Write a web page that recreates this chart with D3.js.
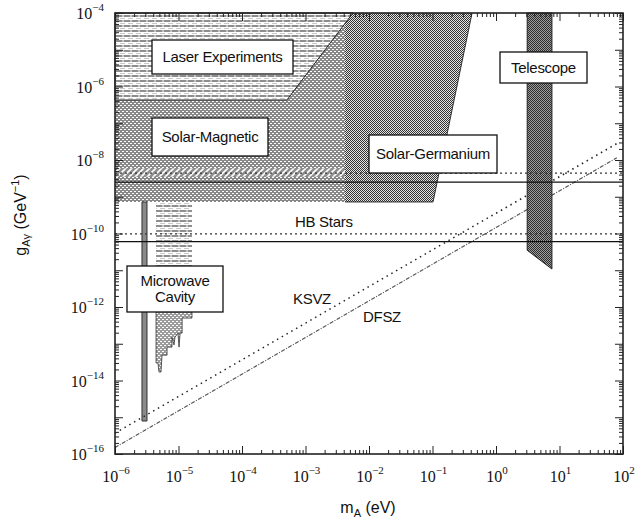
<!DOCTYPE html>
<html>
<head>
<meta charset="utf-8">
<script src="https://d3js.org/d3.v7.min.js"></script>
<style>
  body { margin: 0; background: #fff; }
  svg { display: block; }
  .box-label { font-family: "Liberation Sans", Arial, sans-serif; font-size: 15px; fill: #111; letter-spacing: -0.3px; }
  .tick-label { font-family: "Liberation Serif", "Times New Roman", serif; font-size: 16px; fill: #111; }
  .axis-title { font-family: "Liberation Sans", Arial, sans-serif; font-size: 16px; fill: #111; }
</style>
</head>
<body>
<div id="chart"></div>
<script>
// --- data (mass in eV, coupling in GeV^-1) ---
const massDomain = [1e-6, 1e2];
const couplingDomain = [1e-16, 1e-4];
const xTickExps = [-6, -5, -4, -3, -2, -1, 0, 1, 2];
const yTickExps = [-16, -14, -12, -10, -8, -6, -4];

const solarMagnetic = [[1e-6, 1e-4], [4.2e-3, 1e-4], [4.2e-3, 7.2e-10], [1e-6, 7.2e-10]];
const solarGermanium = [[4.2e-3, 1e-4], [0.42, 1e-4], [0.102, 7.2e-10], [4.2e-3, 7.2e-10]];
const germaniumEdge = [[0.42, 1e-4], [0.102, 7.2e-10], [4.2e-3, 7.2e-10]];
const laserExperiments = [[1e-6, 1e-4], [1e-6, 4.3e-7], [5.1e-4, 4.3e-7], [5.6e-3, 1e-4]];
const solarBand = [[1e-6, 6.0e-9], [4.2e-3, 6.0e-9], [4.2e-3, 3.5e-9], [1e-6, 3.5e-9]];
const telescope = [[3.1, 1e-4], [7.6, 1e-4], [7.6, 1.08e-11], [3.1, 3.5e-11]];
const cavityNarrow = [[2.66e-6, 7.2e-10], [3.19e-6, 7.2e-10], [3.19e-6, 7.9e-16], [2.66e-6, 7.9e-16]];
const cavityUpper = [[4.43e-6, 7.2e-10], [1.63e-5, 7.2e-10], [1.63e-5, 1e-11], [4.43e-6, 1e-11]];
const cavityLower = [
  [4.43e-6, 1e-11], [4.43e-6, 3.0e-14], [4.75e-6, 3.0e-14], [4.93e-6, 1.7e-14], [5.3e-6, 1.7e-14],
  [5.5e-6, 4.9e-14], [6.6e-6, 4.9e-14], [6.6e-6, 8.1e-14], [7.9e-6, 8.1e-14], [7.9e-6, 1.5e-13],
  [8.5e-6, 9.3e-14], [8.8e-6, 1.5e-13], [9.8e-6, 1.95e-13], [1.02e-5, 8.1e-14], [1.06e-5, 1.95e-13],
  [1.14e-5, 1.95e-13], [1.14e-5, 5.0e-13], [1.63e-5, 5.0e-13], [1.63e-5, 1e-11]
];

// horizontal bounds (dotted / solid pairs)
const dottedBounds = [4.4e-9, 9.8e-11];
const solidBounds = [2.5e-9, 6.0e-11];

// theory lines
const ksvz = [[1e-6, 3.7e-16], [80, 2.8e-8]];
const dfsz = [[1e-6, 1.5e-16], [80, 1.15e-8]];

(function() {
  const width = 643, height = 529;
  const left = 115, right = 623, top = 13, bottom = 454;

  const svg = d3.select("#chart").append("svg")
    .attr("width", width).attr("height", height);

  const x = d3.scaleLog().domain(massDomain).range([left, right]);
  const y = d3.scaleLog().domain(couplingDomain).range([bottom, top]);

  // --- patterns ---
  const defs = svg.append("defs");

  const pLaser = defs.append("pattern").attr("id", "laser")
    .attr("patternUnits", "userSpaceOnUse").attr("width", 8).attr("height", 5);
  pLaser.append("rect").attr("width", 8).attr("height", 5).attr("fill", "#fff");
  pLaser.append("rect").attr("y", 0).attr("width", 8).attr("height", 2).attr("fill", "#8e8e8e");
  pLaser.append("rect").attr("x", 2).attr("y", 0.5).attr("width", 2).attr("height", 1).attr("fill", "#fff");
  pLaser.append("rect").attr("x", 0).attr("y", 3).attr("width", 5).attr("height", 1).attr("fill", "#c8c8c8");

  const pMag = defs.append("pattern").attr("id", "solarmag")
    .attr("patternUnits", "userSpaceOnUse").attr("width", 4).attr("height", 4);
  pMag.append("rect").attr("width", 4).attr("height", 4).attr("fill", "#888");
  pMag.append("rect").attr("x", 0).attr("y", 1).attr("width", 2).attr("height", 1).attr("fill", "#fff");
  pMag.append("rect").attr("x", 2).attr("y", 3).attr("width", 2).attr("height", 1).attr("fill", "#fff");

  const pGe = defs.append("pattern").attr("id", "germanium")
    .attr("patternUnits", "userSpaceOnUse").attr("width", 2).attr("height", 2);
  pGe.append("rect").attr("width", 2).attr("height", 2).attr("fill", "#e4e4e4");
  pGe.append("rect").attr("width", 1).attr("height", 1).attr("fill", "#333");
  pGe.append("rect").attr("x", 1).attr("y", 1).attr("width", 1).attr("height", 1).attr("fill", "#333");

  const pTel = defs.append("pattern").attr("id", "telescope")
    .attr("patternUnits", "userSpaceOnUse").attr("width", 2).attr("height", 2);
  pTel.append("rect").attr("width", 2).attr("height", 2).attr("fill", "#a0a0a0");
  pTel.append("rect").attr("width", 1).attr("height", 1).attr("fill", "#2a2a2a");
  pTel.append("rect").attr("x", 1).attr("y", 1).attr("width", 1).attr("height", 1).attr("fill", "#2a2a2a");

  const pCav = defs.append("pattern").attr("id", "cavity")
    .attr("patternUnits", "userSpaceOnUse").attr("width", 4).attr("height", 4);
  pCav.append("rect").attr("width", 4).attr("height", 4).attr("fill", "#9c9c9c");
  pCav.append("rect").attr("x", 0).attr("y", 1).attr("width", 2).attr("height", 1).attr("fill", "#fff");
  pCav.append("rect").attr("x", 2).attr("y", 3).attr("width", 2).attr("height", 1).attr("fill", "#fff");

  const pBand = defs.append("pattern").attr("id", "band")
    .attr("patternUnits", "userSpaceOnUse").attr("width", 6).attr("height", 6);
  pBand.append("rect").attr("width", 6).attr("height", 6).attr("fill", "#8e8e8e");
  pBand.append("path").attr("d", "M0,6 L6,0 M-1,1 L1,-1 M5,7 L7,5")
    .attr("stroke", "#fff").attr("stroke-width", 1.6);

  const line = d3.line().x(d => x(d[0])).y(d => y(d[1]));
  const poly = pts => line(pts) + "Z";

  // --- exclusion regions ---
  svg.append("path").attr("d", poly(solarMagnetic)).attr("fill", "url(#solarmag)");
  svg.append("path").attr("d", poly(solarBand)).attr("fill", "url(#band)");
  svg.append("path").attr("d", poly(solarGermanium)).attr("fill", "url(#germanium)");
  svg.append("path").attr("d", line(germaniumEdge)).attr("fill", "none")
    .attr("stroke", "#222").attr("stroke-width", 0.9);
  svg.append("path").attr("d", poly(laserExperiments)).attr("fill", "url(#laser)")
    .attr("stroke", "#222").attr("stroke-width", 1);

  svg.append("path").attr("d", poly(cavityUpper)).attr("fill", "url(#laser)");
  svg.append("path").attr("d", poly(cavityLower)).attr("fill", "url(#cavity)")
    .attr("stroke", "#333").attr("stroke-width", 0.8);
  svg.append("path").attr("d", poly(cavityNarrow)).attr("fill", "#8a8a8a")
    .attr("stroke", "#333").attr("stroke-width", 1);

  // theory lines
  svg.append("path").attr("d", line(dfsz)).attr("fill", "none")
    .attr("stroke", "#555").attr("stroke-width", 1.2).attr("stroke-dasharray", "4,1.5,1,1.5");
  svg.append("path").attr("d", line(ksvz)).attr("fill", "none")
    .attr("stroke", "#222").attr("stroke-width", 1.5).attr("stroke-dasharray", "1.5,4");

  svg.append("path").attr("d", poly(telescope)).attr("fill", "url(#telescope)")
    .attr("stroke", "#222").attr("stroke-width", 1);

  // horizontal bounds
  svg.selectAll(".dotted-bound").data(dottedBounds).enter().append("line")
    .attr("x1", left).attr("x2", right).attr("y1", d => y(d)).attr("y2", d => y(d))
    .attr("stroke", "#333").attr("stroke-width", 1.2).attr("stroke-dasharray", "2,3");
  svg.selectAll(".solid-bound").data(solidBounds).enter().append("line")
    .attr("x1", left).attr("x2", right).attr("y1", d => y(d)).attr("y2", d => y(d))
    .attr("stroke", "#111").attr("stroke-width", 1.3);

  // --- label boxes ---
  const boxes = [
    { x0: 152, y0: 40, x1: 293, y1: 74, lines: ["Laser Experiments"] },
    { x0: 152, y0: 118, x1: 268, y1: 156, lines: ["Solar-Magnetic"] },
    { x0: 369, y0: 135, x1: 497, y1: 173, lines: ["Solar-Germanium"] },
    { x0: 500, y0: 52, x1: 587, y1: 83, lines: ["Telescope"] },
    { x0: 127, y0: 266, x1: 223, y1: 312, lines: ["Microwave", "Cavity"] }
  ];
  boxes.forEach(b => {
    svg.append("rect").attr("x", b.x0).attr("y", b.y0)
      .attr("width", b.x1 - b.x0).attr("height", b.y1 - b.y0)
      .attr("fill", "#fff").attr("stroke", "#111").attr("stroke-width", 1.3);
    const cy = (b.y0 + b.y1) / 2;
    const n = b.lines.length;
    b.lines.forEach((t, i) => {
      svg.append("text").attr("class", "box-label")
        .attr("x", (b.x0 + b.x1) / 2)
        .attr("y", cy + 5 + (i - (n - 1) / 2) * 16)
        .attr("text-anchor", "middle").text(t);
    });
  });

  // plain labels
  svg.append("text").attr("class", "box-label").attr("x", 295).attr("y", 227).text("HB Stars");
  svg.append("text").attr("class", "box-label").attr("x", 293).attr("y", 304).text("KSVZ");
  svg.append("text").attr("class", "box-label").attr("x", 363).attr("y", 322).text("DFSZ");

  // --- axes: inward ticks on all four sides ---
  const majorX = xTickExps.map(e => Math.pow(10, e));
  const majorY = d3.range(-16, -3).map(e => Math.pow(10, e));
  const minorsOf = exps => {
    const out = [];
    for (let e = exps[0]; e < exps[1]; e++)
      for (let k = 2; k <= 9; k++) out.push(k * Math.pow(10, e));
    return out;
  };
  const minorX = minorsOf([-6, 2]);
  const minorY = minorsOf([-16, -4]);

  function addAxis(gen, scale, values, size, tx, ty) {
    const g = svg.append("g").attr("transform", `translate(${tx},${ty})`)
      .call(gen(scale).tickValues(values).tickSize(size).tickFormat(""));
    g.select(".domain").remove();
    g.selectAll(".tick line").attr("stroke", "#222").attr("stroke-width", 1);
  }
  addAxis(d3.axisBottom, x, majorX, -8, 0, bottom);
  addAxis(d3.axisBottom, x, minorX, -4, 0, bottom);
  addAxis(d3.axisTop, x, majorX, -8, 0, top);
  addAxis(d3.axisTop, x, minorX, -4, 0, top);
  addAxis(d3.axisLeft, y, majorY, -8, left, 0);
  addAxis(d3.axisLeft, y, minorY, -4, left, 0);
  addAxis(d3.axisRight, y, majorY, -8, right, 0);
  addAxis(d3.axisRight, y, minorY, -4, right, 0);

  svg.append("rect").attr("x", left).attr("y", top)
    .attr("width", right - left).attr("height", bottom - top)
    .attr("fill", "none").attr("stroke", "#222").attr("stroke-width", 1.6);

  // tick labels
  const expText = e => (e < 0 ? "\u2212" : "") + Math.abs(e);
  xTickExps.forEach(e => {
    const t = svg.append("text").attr("class", "tick-label")
      .attr("x", x(Math.pow(10, e)) + 1).attr("y", 482).attr("text-anchor", "middle");
    t.append("tspan").text("10");
    t.append("tspan").attr("dy", -8).attr("font-size", 11).text(expText(e));
  });
  yTickExps.forEach(e => {
    const t = svg.append("text").attr("class", "tick-label")
      .attr("x", 104).attr("y", y(Math.pow(10, e)) + 6).attr("text-anchor", "end");
    t.append("tspan").text("10");
    t.append("tspan").attr("dy", -8).attr("font-size", 11).text(expText(e));
  });

  // axis titles
  const xt = svg.append("text").attr("class", "axis-title")
    .attr("x", 368).attr("y", 513).attr("text-anchor", "middle");
  xt.append("tspan").text("m");
  xt.append("tspan").attr("dy", 4).attr("font-size", 11).text("A");
  xt.append("tspan").attr("dy", -4).text(" (eV)");

  const yt = svg.append("text").attr("class", "axis-title")
    .attr("transform", "translate(26,215) rotate(-90)").attr("text-anchor", "middle");
  yt.append("tspan").text("g");
  yt.append("tspan").attr("dy", 4).attr("font-size", 11).text("A\u03b3");
  yt.append("tspan").attr("dy", -4).text(" (GeV");
  yt.append("tspan").attr("dy", -7).attr("font-size", 11).text("\u22121");
  yt.append("tspan").attr("dy", 7).text(")");
})();
</script>
</body>
</html>
